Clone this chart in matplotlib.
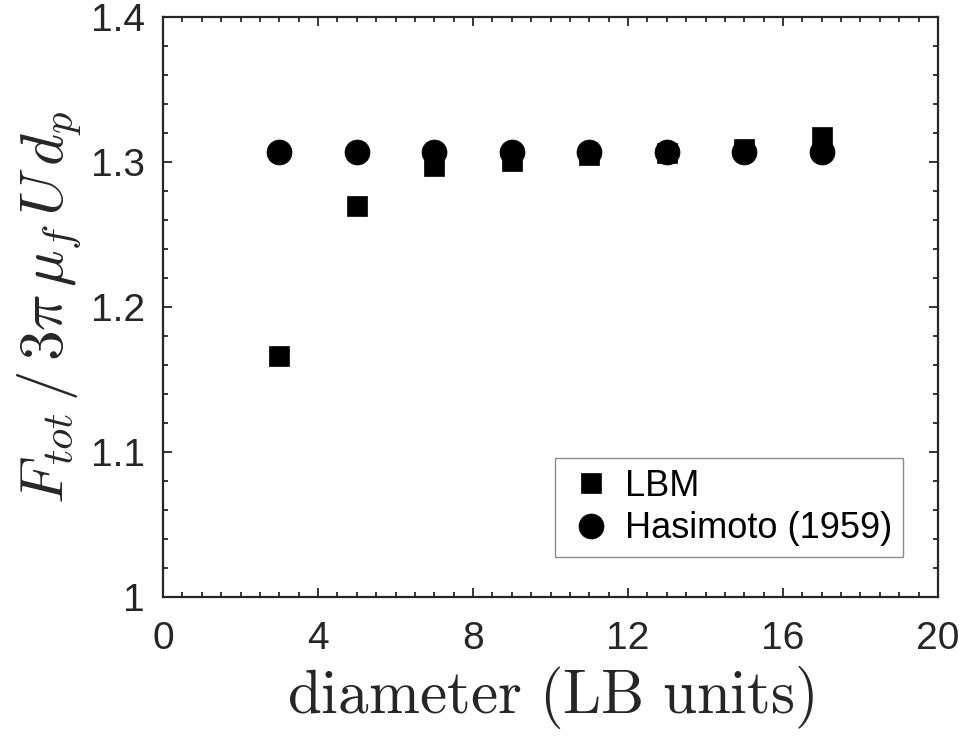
import matplotlib
matplotlib.use("Agg")
import matplotlib.pyplot as plt
from matplotlib.ticker import MultipleLocator

# Particle diameter in lattice units
diameter = [3, 5, 7, 9, 11, 13, 15, 17]
# Normalised total drag force from the lattice Boltzmann runs
lbm = [1.166, 1.270, 1.2975, 1.301, 1.305, 1.306, 1.309, 1.317]
# Hasimoto (1959) periodic-array correction
hasimoto = [1.3067, 1.3067, 1.3067, 1.3067, 1.3067, 1.3067, 1.3067, 1.3067]

xticks = [0, 4, 8, 12, 16, 20]
yticks = [1.0, 1.1, 1.2, 1.3, 1.4]
ytick_labels = ["1", "1.1", "1.2", "1.3", "1.4"]

axis_color = "#262626"
plt.rcParams["mathtext.fontset"] = "cm"
plt.rcParams["font.family"] = ["Liberation Sans", "DejaVu Sans"]

fig = plt.figure(figsize=(9.67, 7.40), dpi=100)
ax = fig.add_axes([0.1686, 0.1932, 0.8014, 0.7838])

ax.plot(diameter, lbm, linestyle="none", marker="s", markersize=14.5,
        color="black", markeredgewidth=0.5, label="LBM", zorder=3)
ax.plot(diameter, hasimoto, linestyle="none", marker="o", markersize=18,
        color="black", markeredgewidth=0.5, label="Hasimoto (1959)", zorder=3)

ax.set_xlim(0, 20)
ax.set_ylim(1.0, 1.4)
ax.set_xticks(xticks)
ax.set_xticklabels([str(v) for v in xticks])
ax.set_yticks(yticks)
ax.set_yticklabels(ytick_labels)
ax.xaxis.set_minor_locator(MultipleLocator(0.5))
ax.yaxis.set_minor_locator(MultipleLocator(0.02))

for side in ax.spines.values():
    side.set_linewidth(1.6)
    side.set_color(axis_color)

ax.tick_params(which="both", direction="in", top=True, right=True,
               color=axis_color, width=1.3)
ax.tick_params(which="major", length=6.5, labelsize=28,
               labelcolor=axis_color)
ax.tick_params(axis="x", which="major", pad=17)
ax.tick_params(axis="y", which="major", pad=13)
ax.tick_params(which="minor", length=3.6)

ax.set_xlabel(r"$\mathrm{diameter\ (LB\ units)}$", fontsize=44,
              color=axis_color, labelpad=5)
ax.set_ylabel(r"$F_{tot}\,/\,3\pi\,\mu_f\,U\,d_p$", fontsize=44,
              color=axis_color, labelpad=6)

leg = ax.legend(loc="lower right", bbox_to_anchor=(0.955, 0.069),
                borderaxespad=0, fontsize=26, frameon=True, fancybox=False,
                handletextpad=0.25, handlelength=1.4, borderpad=0.3,
                labelspacing=0.2, markerscale=1.0)
leg.get_frame().set_edgecolor("#6e6e6e")
leg.get_frame().set_linewidth(1.0)
for t in leg.get_texts():
    t.set_color("black")

fig.savefig("out.png", dpi=100, facecolor="white")
